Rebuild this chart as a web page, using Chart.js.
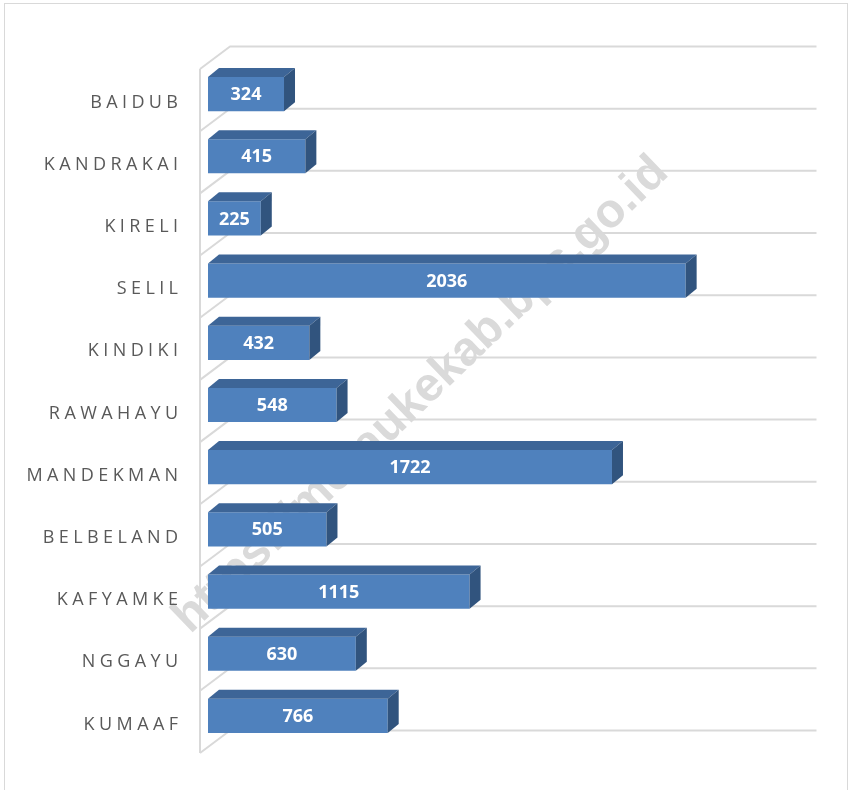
<!DOCTYPE html>
<html>
<head>
<meta charset="utf-8">
<script src="https://cdn.jsdelivr.net/npm/chart.js@4.4.1/dist/chart.umd.min.js"></script>
<style>
  body { margin: 0; background: #fff; }
  canvas { display: block; }
</style>
</head>
<body>
<canvas id="canvas" width="850" height="790"></canvas>
<script>
const labels = ['BAIDUB', 'KANDRAKAI', 'KIRELI', 'SELIL', 'KINDIKI', 'RAWAHAYU', 'MANDEKMAN', 'BELBELAND', 'KAFYAMKE', 'NGGAYU', 'KUMAAF'];
const values = [324, 415, 225, 2036, 432, 548, 1722, 505, 1115, 630, 766];
const axisMax = 2500;
const watermark = 'https://meraukekab.bps.go.id';

// 3d offsets (px)
const depthX = 11, depthY = -9;
const backX = 22, backY = -16.5;
const frontX = -8, frontY = 6;

const frontColor = '#4f81bd';
const topColor = '#3d6597';
const sideColor = '#31547e';

function spacedText(ctx, text, xRight, y, spacing) {
    let w = 0;
    for (const c of text) w += ctx.measureText(c).width + spacing;
    w -= spacing;
    let x = xRight - w;
    for (const c of text) {
        ctx.fillText(c, x, y);
        x += ctx.measureText(c).width + spacing;
    }
}

const chart3d = {
    id: 'chart3d',
    beforeDatasetsDraw(chart) {
        const ctx = chart.ctx;
        const area = chart.chartArea;
        const yScale = chart.scales.y;
        ctx.save();
        // outer frame
        ctx.strokeStyle = '#d9d9d9';
        ctx.lineWidth = 1;
        ctx.strokeRect(4.5, 3.5, 843, 810);

        // watermark
        ctx.save();
        ctx.translate(421, 395);
        ctx.rotate(-43.8 * Math.PI / 180);
        let size = 40;
        ctx.font = 'bold ' + size + 'px "Liberation Sans", Arial, sans-serif';
        size = size * 665 / ctx.measureText(watermark).width;
        ctx.font = 'bold ' + size + 'px "Liberation Sans", Arial, sans-serif';
        ctx.fillStyle = '#dadada';
        ctx.textAlign = 'center';
        ctx.textBaseline = 'middle';
        ctx.fillText(watermark, 0, 0);
        ctx.restore();

        // floor/wall grid
        ctx.strokeStyle = '#d9d9d9';
        ctx.lineWidth = 2;
        ctx.lineJoin = 'round';
        ctx.beginPath();
        for (let i = 0; i <= labels.length; i++) {
            const y = yScale.getPixelForValue(i - 0.5);
            ctx.moveTo(area.left + frontX, y + frontY);
            ctx.lineTo(area.left + backX, y + backY);
            ctx.lineTo(area.right + backX, y + backY);
        }
        ctx.moveTo(area.left + frontX, area.top + frontY);
        ctx.lineTo(area.left + frontX, area.bottom + frontY);
        ctx.stroke();
        ctx.restore();
    },
    afterDatasetsDraw(chart) {
        const ctx = chart.ctx;
        const meta = chart.getDatasetMeta(0);
        ctx.save();
        meta.data.forEach((bar, i) => {
            const p = bar.getProps(['x', 'y', 'base', 'height'], true);
            const x0 = p.base, x1 = p.x;
            const yt = p.y - p.height / 2, yb = p.y + p.height / 2;
            // top face
            ctx.fillStyle = topColor;
            ctx.beginPath();
            ctx.moveTo(x0, yt);
            ctx.lineTo(x1, yt);
            ctx.lineTo(x1 + depthX, yt + depthY);
            ctx.lineTo(x0 + depthX, yt + depthY);
            ctx.closePath();
            ctx.fill();
            // side face
            ctx.fillStyle = sideColor;
            ctx.beginPath();
            ctx.moveTo(x1, yt);
            ctx.lineTo(x1 + depthX, yt + depthY);
            ctx.lineTo(x1 + depthX, yb + depthY);
            ctx.lineTo(x1, yb);
            ctx.closePath();
            ctx.fill();
            // value
            ctx.fillStyle = '#ffffff';
            ctx.font = 'bold 18px "Open Sans", sans-serif';
            ctx.textAlign = 'center';
            ctx.textBaseline = 'middle';
            ctx.fillText(String(values[i]), (x0 + x1) / 2, p.y + 1);
        });

        // category labels
        const yScale = chart.scales.y;
        ctx.fillStyle = '#595959';
        ctx.font = '18px "Open Sans", sans-serif';
        ctx.textAlign = 'left';
        ctx.textBaseline = 'middle';
        labels.forEach((lab, i) => {
            spacedText(ctx, lab, 178, yScale.getPixelForValue(i) + 8.5, 4.4);
        });
        ctx.restore();
    }
};

const data = {
    labels: labels,
    datasets: [{
        data: values,
        backgroundColor: frontColor,
        borderWidth: 0,
        barPercentage: 0.55,
        categoryPercentage: 1
    }]
};

const config = {
    type: 'bar',
    data: data,
    options: {
        indexAxis: 'y',
        responsive: false,
        animation: false,
        layout: { padding: { left: 208, right: 55.5, top: 63, bottom: 43 } },
        plugins: { legend: { display: false }, tooltip: { enabled: false } },
        scales: {
            x: { display: false, min: 0, max: axisMax },
            y: { display: false }
        }
    },
    plugins: [chart3d]
};

const chart = new Chart(document.getElementById('canvas'), config);
</script>
</body>
</html>
